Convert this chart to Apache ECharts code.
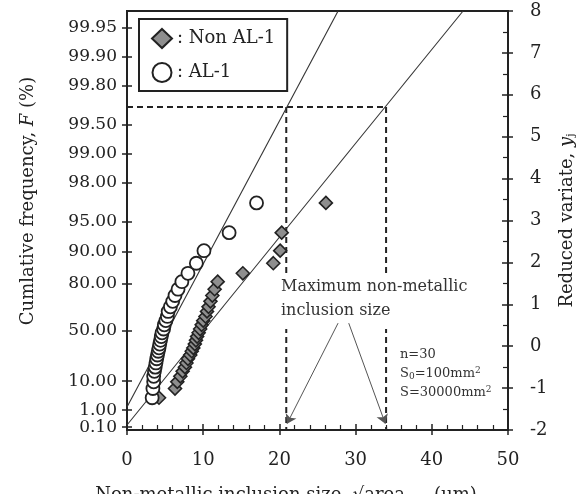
<!DOCTYPE html>
<html>
<head>
<meta charset="utf-8">
<script src="https://cdn.jsdelivr.net/npm/echarts@6/dist/echarts.min.js"></script>
<style>
  html, body { margin: 0; padding: 0; background: #fff; }
  #main { width: 585px; height: 494px; }
</style>
</head>
<body>
<div id="main"></div>
<script>
var myChart = echarts.init(document.getElementById('main'));

var FONT = 'DejaVu Serif';
var INK = '#222';

// reduced variate of each rank j (n = 30)
var yj = [-1.23, -1.01, -0.85, -0.72, -0.60, -0.50, -0.40, -0.30, -0.21, -0.12,
          -0.04, 0.05, 0.14, 0.23, 0.32, 0.41, 0.51, 0.61, 0.71, 0.83,
          0.94, 1.07, 1.21, 1.36, 1.54, 1.74, 1.98, 2.28, 2.71, 3.42];
// sqrt(area_max) in um
var nonAlX = [4.2, 6.3, 6.6, 7.0, 7.3, 7.6, 7.8, 8.0, 8.3, 8.5,
              8.7, 8.9, 9.05, 9.2, 9.4, 9.6, 9.8, 10.0, 10.3, 10.5,
              10.7, 10.95, 11.2, 11.5, 11.9, 15.2, 19.2, 20.1, 20.3, 26.1];
var alX = [3.3, 3.4, 3.5, 3.5, 3.6, 3.7, 3.8, 3.9, 4.0, 4.1,
           4.2, 4.3, 4.4, 4.5, 4.6, 4.8, 4.9, 5.1, 5.3, 5.4,
           5.7, 6.0, 6.3, 6.7, 7.2, 8.0, 9.1, 10.1, 13.4, 17.0];

// fitted lines, end points [x, y]
var alFit = [[0, -1.45], [27.7, 8]];
var nonAlFit = [[0, -1.88], [44.1, 8]];

// predicted max size at S = 30000 mm2
var predLevel = 5.71;
var predSizes = [20.9, 34.0];

// left axis tick labels, cumulative frequency F (%)
var freqTicks = [0.10, 1.00, 10.00, 50.00, 80.00, 90.00, 95.00, 98.00, 99.00, 99.50, 99.80, 99.90, 99.95];
var freqPos = freqTicks.map(function (f) {
    return -Math.log(-Math.log(f / 100));
});

var zip = function (xs, ys) {
    return xs.map(function (x, i) { return [x, ys[i]]; });
};

var dashStyle = { color: INK, width: 2, type: [6, 4] };

option = {
    animation: false,
    backgroundColor: '#fff',
    textStyle: { fontFamily: FONT },
    grid: {
        left: 127, right: 77, top: 11, bottom: 64,
        show: true, borderColor: INK, borderWidth: 2
    },
    legend: {
        left: 139, top: 19,
        orient: 'vertical',
        padding: [9, 12, 8, 12],
        itemGap: 13,
        itemWidth: 20, itemHeight: 19,
        borderColor: INK, borderWidth: 2,
        formatter: ': {name}',
        textStyle: { fontFamily: FONT, fontSize: 18, color: INK },
        data: ['Non AL-1', 'AL-1']
    },
    xAxis: [{
        type: 'value', min: 0, max: 50, interval: 10,
        position: 'bottom',
        axisLine: { onZero: false, lineStyle: { color: INK, width: 2 } },
        axisTick: { inside: true, length: 6, lineStyle: { color: INK, width: 1.5 } },
        minorTick: { show: true, splitNumber: 5, length: 5, lineStyle: { color: INK, width: 1.2 } },
        axisLabel: { margin: 21, fontFamily: FONT, fontSize: 18, color: INK },
        splitLine: { show: false }
    }, {
        type: 'value', min: 0, max: 50, interval: 10,
        position: 'bottom',
        axisLine: { show: false, onZero: false },
        axisTick: { inside: false, length: 5, lineStyle: { color: INK, width: 1.5 } },
        axisLabel: { show: false },
        splitLine: { show: false }
    }],
    yAxis: [{
        type: 'value', min: -2, max: 8,
        position: 'left',
        axisLine: { show: true, onZero: false, lineStyle: { color: INK, width: 2 } },
        axisTick: { show: true, inside: true, length: 5, customValues: freqPos,
                    lineStyle: { color: INK, width: 1.5 } },
        axisLabel: {
            customValues: freqPos, margin: 10,
            showMinLabel: true, showMaxLabel: true,
            fontFamily: FONT, fontSize: 17, color: INK,
            formatter: function (v) {
                return (100 * Math.exp(-Math.exp(-v))).toFixed(2);
            }
        },
        splitLine: { show: false }
    }, {
        type: 'value', min: -2, max: 8, interval: 1,
        position: 'right',
        name: 'Reduced variate, {i|y}{sub|j}',
        nameLocation: 'middle', nameGap: 46,
        nameTextStyle: {
            fontFamily: FONT, fontSize: 18, color: INK,
            rich: {
                i: { fontFamily: FONT, fontSize: 18, fontStyle: 'italic', color: INK },
                sub: { fontFamily: FONT, fontSize: 11, color: INK, verticalAlign: 'bottom', padding: [6, 0, 0, 0] }
            }
        },
        axisLine: { show: true, onZero: false, lineStyle: { color: INK, width: 2 } },
        axisTick: { inside: true, length: 6, lineStyle: { color: INK, width: 1.5 } },
        minorTick: { show: true, splitNumber: 2, length: 5, lineStyle: { color: INK, width: 1.2 } },
        axisLabel: { margin: 22, fontFamily: FONT, fontSize: 18, color: INK },
        splitLine: { show: false }
    }, {
        type: 'value', min: -2, max: 8,
        position: 'left',
        axisLine: { show: false, onZero: false },
        axisTick: { show: true, inside: false, length: 5, customValues: freqPos,
                    lineStyle: { color: INK, width: 1.5 } },
        axisLabel: { show: false, customValues: freqPos },
        splitLine: { show: false }
    }, {
        type: 'value', min: -2, max: 8, interval: 1,
        position: 'right',
        axisLine: { show: false, onZero: false },
        axisTick: { inside: false, length: 5, lineStyle: { color: INK, width: 1.5 } },
        axisLabel: { show: false },
        splitLine: { show: false }
    }],
    graphic: [{
        type: 'text', x: 28, y: 201, rotation: Math.PI / 2, z: 100,
        style: {
            text: 'Cumlative frequency, {i|F} (%)',
            font: '18px "DejaVu Serif"', fill: INK,
            align: 'center', verticalAlign: 'middle',
            textAlign: 'center', textVerticalAlign: 'middle',
            rich: { i: { fontFamily: FONT, fontSize: 18, fontStyle: 'italic', fill: INK, color: INK } }
        }
    }, {
        type: 'text', x: 286, y: 486, z: 100,
        style: {
            text: 'Non-metallic inclusion size, \u221Aarea{sub|max} (\u03BCm)',
            font: '18px "DejaVu Serif"', fill: INK,
            align: 'center', verticalAlign: 'top',
            textAlign: 'center', textVerticalAlign: 'top',
            rich: { sub: { fontFamily: FONT, fontSize: 11, fill: INK, color: INK, padding: [8, 0, 0, 0] } }
        }
    }, {
        type: 'text', x: 279, y: 273, z: 100,
        style: {
            text: 'Maximum non-metallic\ninclusion size',
            font: '16px "DejaVu Serif"', fill: '#333',
            lineHeight: 24,
            backgroundColor: '#fff',
            padding: [2, 2, 6, 2],
            align: 'left', verticalAlign: 'top',
            textAlign: 'left', textVerticalAlign: 'top'
        }
    }, {
        type: 'text', x: 400, y: 345, z: 100,
        style: {
            text: 'n=30\nS{sub|0}=100mm{sup|2}\nS=30000mm{sup|2}',
            font: '13px "DejaVu Serif"', fill: '#333',
            lineHeight: 19,
            align: 'left', verticalAlign: 'top',
            textAlign: 'left', textVerticalAlign: 'top',
            rich: {
                sub: { fontFamily: FONT, fontSize: 9, fill: '#333', color: '#333', padding: [6, 0, 0, 0] },
                sup: { fontFamily: FONT, fontSize: 9, fill: '#333', color: '#333', padding: [0, 0, 6, 0] }
            }
        }
    }],
    series: [{
        name: 'Non AL-1',
        type: 'scatter',
        xAxisIndex: 0, yAxisIndex: 1,
        symbol: 'diamond', symbolSize: [13, 13],
        itemStyle: { color: '#8e8e8e', borderColor: INK, borderWidth: 1.6, opacity: 1 },
        z: 4,
        data: zip(nonAlX, yj)
    }, {
        name: 'AL-1',
        type: 'scatter',
        xAxisIndex: 0, yAxisIndex: 1,
        symbol: 'circle', symbolSize: 13,
        itemStyle: { color: '#fff', borderColor: INK, borderWidth: 1.8, opacity: 1 },
        z: 4,
        data: zip(alX, yj)
    }, {
        type: 'line', xAxisIndex: 0, yAxisIndex: 1,
        symbol: 'none', silent: true, z: 3,
        lineStyle: { color: '#333', width: 1.1 },
        data: alFit
    }, {
        type: 'line', xAxisIndex: 0, yAxisIndex: 1,
        symbol: 'none', silent: true, z: 3,
        lineStyle: { color: '#333', width: 1.1 },
        data: nonAlFit
    }, {
        type: 'line', xAxisIndex: 0, yAxisIndex: 1,
        symbol: 'none', silent: true, z: 2,
        lineStyle: dashStyle,
        data: [[0, predLevel], [predSizes[1], predLevel]]
    }, {
        type: 'line', xAxisIndex: 0, yAxisIndex: 1,
        symbol: 'none', silent: true, z: 2,
        lineStyle: dashStyle,
        data: [[predSizes[0], predLevel], [predSizes[0], -2]]
    }, {
        type: 'line', xAxisIndex: 0, yAxisIndex: 1,
        symbol: 'none', silent: true, z: 2,
        lineStyle: dashStyle,
        data: [[predSizes[1], predLevel], [predSizes[1], -2]]
    }, {
        type: 'lines', coordinateSystem: 'cartesian2d',
        xAxisIndex: 0, yAxisIndex: 1,
        silent: true, z: 200,
        symbol: ['none', 'arrow'], symbolSize: 9,
        lineStyle: { color: '#555', width: 1, opacity: 1 },
        data: [
            { coords: [[27.7, 0.55], [predSizes[0] + 0.1, -1.85]] },
            { coords: [[29.1, 0.55], [predSizes[1] - 0.1, -1.85]] }
        ]
    }]
};

myChart.setOption(option);
</script>
</body>
</html>
